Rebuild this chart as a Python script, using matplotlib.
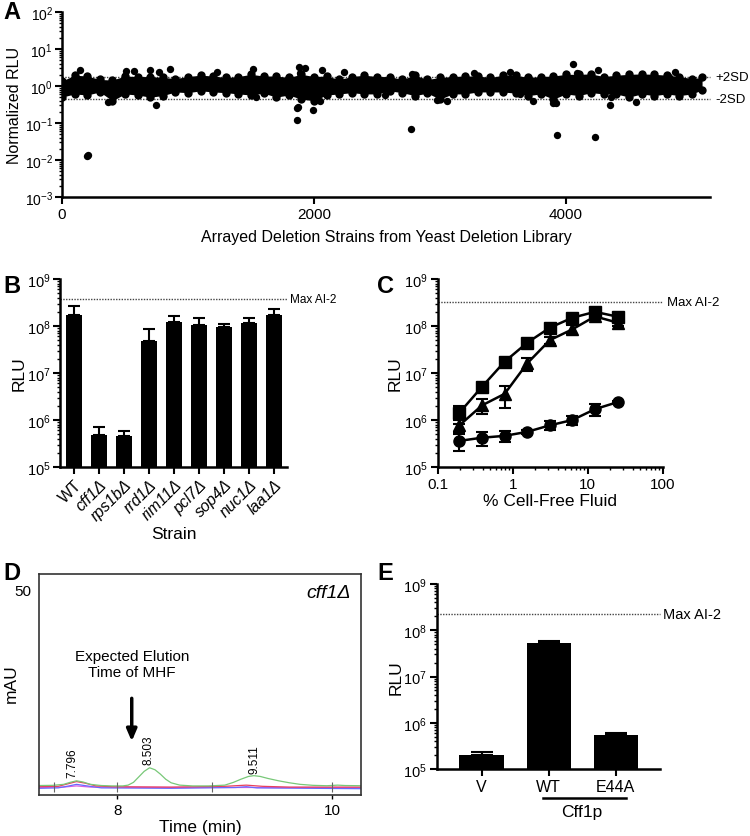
import numpy as np
import matplotlib
matplotlib.use('Agg')
import matplotlib.pyplot as plt
from matplotlib.ticker import LogLocator, NullFormatter
import matplotlib.transforms as mtransforms

plt.rcParams['font.family'] = ['Liberation Sans', 'DejaVu Sans']
plt.rcParams['mathtext.fontset'] = 'custom'
plt.rcParams['mathtext.rm'] = 'Liberation Sans'

# ---- panel A: screen of deletion strains (band envelope + outliers) ----
band_x = [0, 100, 200, 300, 400, 500, 600, 700, 800, 900, 1000, 1100, 1200,
          1300, 1400, 1500, 1600, 1700, 1800, 1900, 2000, 2100, 2200, 2300, 2400, 2500,
          2600, 2700, 2800, 2900, 3000, 3100, 3200, 3300, 3400, 3500, 3600, 3700, 3800, 3900,
          4000, 4100, 4200, 4300, 4400, 4500, 4600, 4700, 4800, 4900, 5000, 5080]
band_top = [1.36, 1.96, 1.86, 1.5, 1.45, 1.86, 1.8, 1.8, 1.7, 1.59, 1.8, 1.96, 1.86,
            1.7, 1.8, 2.07, 1.86, 1.86, 1.7, 2.07, 1.8, 1.86, 1.5, 1.8, 1.96, 1.8,
            1.8, 1.5, 1.96, 1.5, 1.7, 1.8, 1.86, 1.86, 1.7, 1.96, 1.96, 1.7, 1.8, 1.86,
            2.07, 2.07, 2.12, 1.8, 1.96, 2.07, 2.12, 2.07, 1.96, 1.8, 1.59, 1.7]
band_bottom = [0.5, 0.61, 0.57, 0.69, 0.4, 0.61, 0.57, 0.5, 0.55, 0.69, 0.66, 0.74, 0.69,
               0.66, 0.61, 0.57, 0.64, 0.5, 0.57, 0.44, 0.4, 0.57, 0.61, 0.66, 0.61, 0.61,
               0.74, 0.66, 0.55, 0.64, 0.44, 0.61, 0.61, 0.69, 0.69, 0.69, 0.64, 0.55, 0.61, 0.44,
               0.61, 0.55, 0.66, 0.61, 0.61, 0.5, 0.61, 0.55, 0.61, 0.55, 0.61, 0.78]
out_x = [143, 195, 205, 508, 574, 698, 857, 746, 772, 1228, 365,
         1513, 1881, 1929, 1889, 2061, 2238, 1876, 1862, 1989, 1868, 1540, 2563, 2048,
         2770, 2778, 3270, 3556, 3053, 2974, 3738, 3635, 3897,
         4053, 4085, 4254, 4865, 4817, 3921, 3926, 4230, 4355, 4349, 4553]
out_y = [2.7, 0.0125, 0.0135, 2.6, 2.5, 2.7, 2.9, 0.3, 2.35, 2.4, 0.36,
         2.8, 3.3, 3.0, 2.3, 2.7, 2.35, 0.265, 0.25, 0.224, 0.12, 0.51, 0.57, 0.4,
         0.069, 2.1, 2.2, 2.35, 0.385, 0.42, 0.4, 0.6, 0.34,
         3.9, 2.2, 2.7, 2.4, 1.78, 0.34, 0.047, 0.041, 0.51, 0.3, 0.376]
sd_plus = 1.72
sd_minus = 0.45

# ---- panel B ----
strains = ['WT', 'cff1Δ', 'rps1bΔ', 'rrd1Δ', 'rim11Δ', 'pcl7Δ', 'sop4Δ', 'nuc1Δ', 'laa1Δ']
b_mean = [1.7e8, 4.9e5, 4.6e5, 4.9e7, 1.24e8, 1.05e8, 9.4e7, 1.16e8, 1.7e8]
b_err = [1.0e8, 2.2e5, 1.3e5, 3.8e7, 4.1e7, 4.1e7, 1.6e7, 3.4e7, 6.0e7]
b_max = 3.8e8

# ---- panel C ----
conc = [0.195, 0.39, 0.78, 1.56, 3.125, 6.25, 12.5, 25]
sq = [1.43e6, 5.1e6, 1.74e7, 4.4e7, 9.2e7, 1.5e8, 2.0e8, 1.58e8]
sq_err = [6e5, 1e6, 2e6, 5e6, 1e7, 2e7, 3e7, 2e7]
tri = [7.7e5, 2.05e6, 3.6e6, 1.6e7, 5.0e7, 8.5e7, 1.6e8, 1.18e8]
tri_err = [2.2e5, 7e5, 1.8e6, 5e6, 8e6, 1.8e7, 2.5e7, 1.8e7]
circ = [3.6e5, 4.2e5, 4.6e5, 5.6e5, 7.7e5, 1.0e6, 1.7e6, 2.4e6]
circ_err = [1.4e5, 1.4e5, 1.2e5, 5e4, 1.7e5, 2.3e5, 5e5, 1e5]
c_max = 3.3e8

# ---- panel D: chromatogram traces ----
green_t = [7.27, 7.40, 7.50, 7.56, 7.62, 7.68, 7.75, 7.85, 7.95, 8.05, 8.10, 8.15, 8.20,
           8.25, 8.30, 8.35, 8.40, 8.45, 8.50, 8.58, 8.70, 8.85, 9.00, 9.08, 9.15, 9.22,
           9.27, 9.33, 9.40, 9.50, 9.60, 9.70, 9.82, 9.95, 10.05, 10.12, 10.27]
green_y = [0.4, 0.45, 0.7, 1.2, 1.6, 1.3, 0.7, 0.4, 0.3, 0.3, 0.5, 1.2, 2.6,
           4.0, 4.9, 4.4, 3.3, 2.0, 1.1, 0.5, 0.3, 0.3, 0.5, 1.2, 2.0, 2.7,
           2.9, 2.7, 2.2, 1.6, 1.1, 0.7, 0.45, 0.35, 0.5, 0.4, 0.35]
red_t = [7.27, 7.45, 7.55, 7.62, 7.70, 7.80, 7.95, 8.5, 9.0, 9.2, 9.35, 9.6, 10.27]
red_y = [0.1, 0.2, 0.9, 1.4, 1.0, 0.3, 0.1, 0.0, 0.2, 0.5, 0.2, 0.0, 0.0]
blue_t = [7.27, 7.45, 7.55, 7.62, 7.72, 7.85, 8.5, 9.1, 9.2, 9.3, 10.27]
blue_y = [-0.3, -0.2, 0.3, 0.7, 0.3, -0.2, -0.3, -0.1, 0.1, -0.2, -0.4]
mag_t = [7.27, 7.5, 7.62, 7.75, 8.5, 9.5, 10.27]
mag_y = [-0.1, 0.0, 0.3, 0.0, -0.1, -0.1, -0.1]
peak_labels = ['7.796', '8.503', '9.511']
peak_t = [7.585, 8.286, 9.272]
peak_y = [2.5, 5.8, 3.6]
marks_t = [7.41, 8.0, 8.885, 10.0]

# ---- panel E ----
e_labels = ['V', 'WT', 'E44A']
e_mean = [2.0e5, 5.4e7, 5.5e5]
e_err = [3e4, 6e6, 4e4]
e_max = 2.2e8


def graphpad(ax):
    for s in ['top', 'right']:
        ax.spines[s].set_visible(False)
    for s in ['left', 'bottom']:
        ax.spines[s].set_linewidth(1.8)
    ax.tick_params(which='major', direction='out', length=5, width=1.5, pad=2)
    ax.tick_params(axis='y', which='major', labelsize=10.5)
    ax.tick_params(axis='x', which='major', labelsize=11)
    ax.tick_params(which='minor', direction='out', length=2.5, width=1)


def log_y(ax, lo, hi):
    ax.set_yscale('log')
    ax.set_ylim(lo, hi)
    ax.yaxis.set_major_locator(LogLocator(base=10, numticks=20))
    ax.yaxis.set_minor_locator(LogLocator(base=10, subs=np.arange(2, 10), numticks=20))
    ax.yaxis.set_minor_formatter(NullFormatter())


fig = plt.figure(figsize=(7.5, 8.37), dpi=100)
W, H = 750.0, 837.0


def box(l, r, t, b):
    return [l / W, 1 - b / H, (r - l) / W, (b - t) / H]


# A
axA = fig.add_axes(box(62, 710, 13, 198))
graphpad(axA)
log_y(axA, 1e-3, 1e2)
axA.tick_params(axis='y', which='major', labelsize=10, pad=1.5)
axA.set_xlim(0, 5143)
axA.set_xticks([0, 2000, 4000])
axA.axhline(sd_plus, color='#444444', lw=1, ls=(0, (1, 1)), zorder=1, clip_on=False)
axA.axhline(sd_minus, color='#444444', lw=1, ls=(0, (1, 1)), zorder=1, clip_on=False)
axA.fill_between(band_x, band_bottom, band_top, color='black', lw=0, zorder=2)
axA.scatter(band_x, band_top, s=36, color='black', zorder=3, lw=0)
axA.scatter(band_x, band_bottom, s=36, color='black', zorder=3, lw=0)
axA.scatter(out_x, out_y, s=28, color='black', zorder=3, lw=0)
trA = mtransforms.blended_transform_factory(axA.transAxes, axA.transData)
axA.text(1.008, sd_plus, '+2SD', transform=trA, va='center', ha='left', fontsize=9.5)
axA.text(1.008, sd_minus, '-2SD', transform=trA, va='center', ha='left', fontsize=9.5)
axA.set_ylabel('Normalized RLU', fontsize=11.5)
axA.yaxis.set_label_coords(-0.062, 0.5)
axA.set_xlabel('Arrayed Deletion Strains from Yeast Deletion Library', fontsize=11.5, labelpad=6)

# B
axB = fig.add_axes(box(60, 287, 280, 468))
graphpad(axB)
log_y(axB, 1e5, 1e9)
pos_b = np.arange(len(strains))
axB.bar(pos_b, b_mean, width=0.67, color='black', zorder=2)
axB.errorbar(pos_b, b_mean, yerr=[np.zeros(len(b_mean)), b_err], fmt='none', ecolor='black',
             elinewidth=1.5, capsize=4.3, capthick=1.5, zorder=1)
axB.set_xlim(-0.56, 8.52)
axB.set_xticks(pos_b)
axB.set_xticklabels(strains, rotation=45, ha='right', rotation_mode='anchor', fontsize=11.5)
for i, lab in enumerate(axB.get_xticklabels()):
    if i > 0:
        lab.set_fontstyle('italic')
axB.axhline(b_max, color='#444444', lw=1, ls=(0, (1, 1)), clip_on=False)
axB.text(1.013, b_max, 'Max AI-2', transform=mtransforms.blended_transform_factory(axB.transAxes, axB.transData),
         va='center', ha='left', fontsize=8.5)
axB.set_ylabel('RLU', fontsize=12.5)
axB.yaxis.set_label_coords(-0.145, 0.5)
axB.set_xlabel('Strain', fontsize=12.5, labelpad=2)

# C
axC = fig.add_axes(box(437.7, 662.7, 280, 468))
graphpad(axC)
log_y(axC, 1e5, 1e9)
axC.set_xscale('log')
axC.set_xlim(0.1, 100)
axC.set_xticks([0.1, 1, 10, 100])
axC.set_xticklabels(['0.1', '1', '10', '100'])
axC.xaxis.set_minor_locator(LogLocator(base=10, subs=np.arange(2, 10), numticks=20))
axC.xaxis.set_minor_formatter(NullFormatter())
for yv, ev, mk in [(circ, circ_err, 'o'), (tri, tri_err, '^'), (sq, sq_err, 's')]:
    axC.errorbar(conc, yv, yerr=ev, color='black', marker=mk, ms=8, lw=1.8,
                 elinewidth=1.5, capsize=4.3, capthick=1.5)
axC.axhline(c_max, color='#444444', lw=1, ls=(0, (1, 1)), clip_on=False)
axC.text(1.02, c_max, 'Max AI-2', transform=mtransforms.blended_transform_factory(axC.transAxes, axC.transData),
         va='center', ha='left', fontsize=9.5)
axC.set_ylabel('RLU', fontsize=12.5)
axC.yaxis.set_label_coords(-0.155, 0.5)
axC.set_xlabel('% Cell-Free Fluid', fontsize=12.5, labelpad=2)

# D
axD = fig.add_axes(box(39.3, 361, 575, 796))
for s in axD.spines.values():
    s.set_linewidth(1.2)
    s.set_color('#333333')
axD.set_xlim(7.274, 10.267)
axD.set_ylim(-2, 54)
axD.set_xticks([8, 10])
axD.set_yticks([50])
axD.tick_params(axis='x', direction='out', length=3, width=1, labelsize=11, pad=3)
axD.tick_params(axis='y', length=0, labelsize=11, pad=6)
axD.plot(mag_t, mag_y, color='#e060e0', lw=0.9)
axD.plot(blue_t, blue_y, color='#6868ff', lw=0.9)
axD.plot(red_t, red_y, color='#e8405e', lw=0.9)
axD.plot(green_t, green_y, color='#78c878', lw=0.9)
axD.vlines(marks_t, -1.2, 1.35, color='#666666', lw=0.8)
for lab, t, yv in zip(peak_labels, peak_t, peak_y):
    axD.text(t, yv, lab, rotation=90, ha='center', va='bottom', fontsize=8.5)
axD.annotate('', xy=(8.134, 10.9), xytext=(8.134, 23.2),
             arrowprops=dict(arrowstyle='-|>,head_length=0.7,head_width=0.3', lw=2.5, color='black'))
axD.text(8.134, 31.2, 'Expected Elution\nTime of MHF', ha='center', va='center', fontsize=11, linespacing=1.15)
axD.text(10.17, 49.2, 'cff1Δ', ha='right', va='center', fontsize=14, style='italic')
axD.set_xlabel('Time (min)', fontsize=12.5, labelpad=1)
axD.set_ylabel('mAU', fontsize=12.5)
axD.yaxis.set_label_coords(-0.065, 0.51)

# E
axE = fig.add_axes(box(436.7, 660, 585, 770))
graphpad(axE)
log_y(axE, 1e5, 1e9)
pos_e = np.arange(len(e_labels))
axE.bar(pos_e, e_mean, width=0.66, color='black', zorder=2)
axE.errorbar(pos_e, e_mean, yerr=[np.zeros(len(e_mean)), e_err], fmt='none', ecolor='black',
             elinewidth=1.5, capsize=8, capthick=1.5, zorder=1)
axE.set_xlim(-0.67, 2.66)
axE.set_xticks(pos_e)
axE.set_xticklabels(e_labels, fontsize=11.5)
axE.axhline(e_max, color='#444444', lw=1, ls=(0, (1, 1)), clip_on=False)
axE.text(1.015, e_max, 'Max AI-2', transform=mtransforms.blended_transform_factory(axE.transAxes, axE.transData),
         va='center', ha='left', fontsize=10.5)
axE.set_ylabel('RLU', fontsize=12.5)
axE.yaxis.set_label_coords(-0.15, 0.5)
tr = mtransforms.blended_transform_factory(axE.transData, axE.transAxes)
axE.plot([0.91, 2.15], [-0.157, -0.157], color='black', lw=1.8, transform=tr, clip_on=False)
axE.text(1.5, -0.231, 'Cff1p', transform=tr, ha='center', va='center', fontsize=12.5)

# panel letters
for letter, x, y in [('A', 0.005, 0.999), ('B', 0.005, 0.672), ('C', 0.503, 0.672),
                     ('D', 0.005, 0.329), ('E', 0.503, 0.329)]:
    fig.text(x, y, letter, fontsize=17, fontweight='bold', ha='left', va='top')

fig.savefig('out.png', dpi=100)
